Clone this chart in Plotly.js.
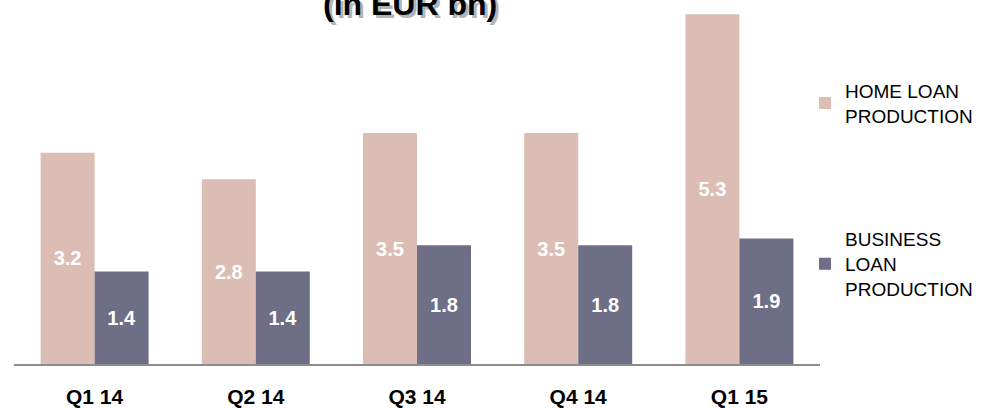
<!DOCTYPE html>
<html>
<head>
<meta charset="utf-8">
<script src="https://cdn.plot.ly/plotly-3.0.1.min.js"></script>
<style>html,body{margin:0;padding:0;background:#fff;}#chart{width:988px;height:408px;}</style>
</head>
<body>
<div id="chart"></div>
<script>
var quarters = ["Q1 14", "Q2 14", "Q3 14", "Q4 14", "Q1 15"];
var homeLoan = [3.2, 2.8, 3.5, 3.5, 5.3];
var businessLoan = [1.4, 1.4, 1.8, 1.8, 1.9];
var seriesNames = ["HOME LOAN<br>PRODUCTION", "BUSINESS<br>LOAN<br>PRODUCTION"];
var titleText = "(in EUR bn)";

var labelFont = {family: "Liberation Sans, Arial, sans-serif", size: 20, color: "#ffffff", weight: "bold"};

var traces = [
  {
    type: "bar", x: quarters, y: homeLoan, name: seriesNames[0], legendgroup: "a",
    marker: {color: "#dcbdb4"},
    text: homeLoan.map(function(v){return v.toFixed(1);}),
    textposition: "inside", insidetextanchor: "middle", textangle: 0,
    textfont: labelFont, hoverinfo: "none"
  },
  {
    type: "bar", x: quarters, y: businessLoan, name: seriesNames[1], legendgroup: "b",
    marker: {color: "#6e6e87"},
    text: businessLoan.map(function(v){return v.toFixed(1);}),
    textposition: "inside", insidetextanchor: "middle", textangle: 0,
    textfont: labelFont, hoverinfo: "none"
  }
];

var layout = {
  width: 988, height: 408,
  margin: {l: 14, r: 168, t: 1, b: 44},
  paper_bgcolor: "#ffffff", plot_bgcolor: "#ffffff",
  barmode: "group", bargap: 0.33, bargroupgap: 0,
  font: {family: "Liberation Sans, Arial, sans-serif", color: "#000"},
  showlegend: true,
  legend: {
    x: 0.9814, xanchor: "left", y: 0.805, yanchor: "top",
    font: {size: 19, color: "#000"},
    traceorder: "grouped", tracegroupgap: 96,
    itemwidth: 30, bgcolor: "rgba(0,0,0,0)"
  },
  xaxis: {
    type: "category", showgrid: false, zeroline: false,
    showline: true, linecolor: "#8c8c8c", linewidth: 2,
    ticks: "", ticklen: 0, ticklabelstandoff: 13,
    tickfont: {size: 21, color: "#000", weight: "bold"},
    automargin: false
  },
  yaxis: {
    range: [0, 5.5], visible: false, showgrid: false, zeroline: false, fixedrange: true
  },
  annotations: [
    {
      text: titleText, xref: "paper", yref: "paper", x: 0.491, y: 0.997, yanchor: "middle",
      xshift: 3, yshift: -5,
      showarrow: false, font: {size: 32, color: "#b4b4b4", weight: "bold"}
    },
    {
      text: titleText, xref: "paper", yref: "paper", x: 0.491, y: 0.997, yanchor: "middle",
      yshift: -2,
      showarrow: false, font: {size: 32, color: "#000", weight: "bold"}
    }
  ]
};

Plotly.newPlot("chart", traces, layout, {displayModeBar: false, staticPlot: true});
</script>
</body>
</html>
